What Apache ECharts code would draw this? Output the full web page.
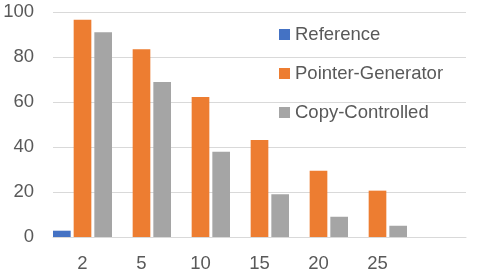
<!DOCTYPE html>
<html>
<head>
<meta charset="utf-8">
<script src="https://cdn.jsdelivr.net/npm/echarts@6/dist/echarts.min.js"></script>
<style>html,body{margin:0;padding:0;background:#fff}#c{width:479px;height:269px}</style>
</head>
<body>
<div id="c"></div>
<script>
var categories = ['2', '5', '10', '15', '20', '25', ''];
var seriesNames = ['Reference', 'Pointer-Generator', 'Copy-Controlled'];
var referenceValues = [2.8, 0, 0, 0, 0, 0, null];
var pointerGeneratorValues = [96.6, 83.4, 62.2, 43.1, 29.5, 20.6, null];
var copyControlledValues = [91.0, 68.9, 37.9, 19.0, 9.0, 5.0, null];
var yTicks = { min: 0, max: 100, interval: 20 };

var font = 'Liberation Sans';
var textColor = '#595959';
var chart = echarts.init(document.getElementById('c'), null, { renderer: 'canvas' });
chart.setOption({
  animation: false,
  color: ['#4472C4', '#ED7D31', '#A5A5A5'],
  grid: { left: 53, right: 13, top: 12, bottom: 32, containLabel: false, outerBoundsMode: 'none' },
  legend: {
    orient: 'vertical',
    left: 279,
    top: 25,
    padding: 0,
    itemWidth: 11,
    itemHeight: 11,
    itemGap: 20,
    icon: 'rect',
    data: seriesNames,
    textStyle: { fontFamily: font, fontSize: 18.5, color: textColor }
  },
  xAxis: {
    type: 'category',
    data: categories,
    axisLine: { show: true, lineStyle: { color: '#D9D9D9' } },
    axisTick: { show: false },
    axisLabel: { fontFamily: font, fontSize: 18.5, color: textColor, margin: 17, interval: 0 }
  },
  yAxis: {
    type: 'value',
    min: yTicks.min,
    max: yTicks.max,
    interval: yTicks.interval,
    axisLine: { show: false },
    axisTick: { show: false },
    splitLine: { lineStyle: { color: '#D9D9D9' } },
    axisLabel: { fontFamily: font, fontSize: 18.5, color: textColor, margin: 19 }
  },
  series: [
    { name: seriesNames[0], type: 'bar', data: referenceValues, barCategoryGap: '0%', barGap: '17%' },
    { name: seriesNames[1], type: 'bar', data: pointerGeneratorValues, barCategoryGap: '0%', barGap: '17%' },
    { name: seriesNames[2], type: 'bar', data: copyControlledValues, barCategoryGap: '0%', barGap: '17%' }
  ]
});
</script>
</body>
</html>
